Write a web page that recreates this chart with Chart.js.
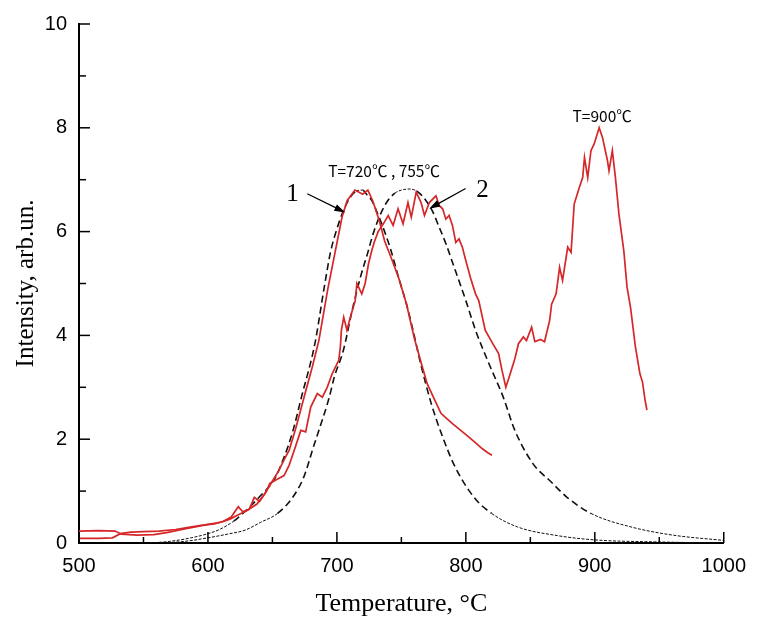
<!DOCTYPE html>
<html>
<head>
<meta charset="utf-8">
<script src="https://cdn.jsdelivr.net/npm/chart.js@4.4.1/dist/chart.umd.min.js"></script>
<style>
  body { margin: 0; background: #fff; }
  #wrap { width: 757px; height: 624px; }
</style>
</head>
<body>
<div id="wrap"><canvas id="chartTemp"></canvas></div>
<script>
// fitted curve 1 (peak 720)
const fit1T = [555, 570, 587, 600, 608, 620, 627, 640, 652, 659, 666, 672.5, 683, 690, 695, 700, 705, 710, 715, 720, 723, 727, 731, 737, 742, 748, 754, 759, 765, 773, 781, 791, 806, 820, 840, 869, 900, 950, 1000];
const fit1I = [0.0, 0.03, 0.1, 0.18, 0.25, 0.42, 0.57, 0.89, 1.25, 1.65, 2.17, 2.81, 3.85, 4.9, 5.6, 6.05, 6.4, 6.65, 6.78, 6.8, 6.72, 6.6, 6.38, 6.0, 5.63, 5.1, 4.6, 4.1, 3.45, 2.7, 2.11, 1.5, 0.89, 0.57, 0.31, 0.15, 0.06, 0.02, 0.0];

// fitted curve 2 (peak 755)
const fit2T = [565, 585, 600, 615, 629, 641, 654, 666, 674, 678, 681, 686, 694, 698, 705, 712, 718, 724, 728, 733.4, 738.5, 745, 750, 756, 762, 769, 774, 779.4, 784.5, 790, 800, 807.5, 818, 829, 838, 852, 866, 878, 897, 928, 961, 1000];
const fit2I = [0.0, 0.04, 0.1, 0.17, 0.25, 0.4, 0.57, 0.89, 1.25, 1.54, 1.79, 2.17, 2.8, 3.2, 3.71, 4.5, 5.1, 5.6, 5.95, 6.31, 6.56, 6.74, 6.8, 6.82, 6.78, 6.6, 6.4, 6.08, 5.77, 5.38, 4.67, 4.1, 3.45, 2.81, 2.17, 1.53, 1.18, 0.89, 0.57, 0.31, 0.15, 0.05];

// measured curve 1
const meas1T = [500, 515, 528, 533, 545, 558, 568, 580, 590, 600, 610, 617, 624, 630, 638, 644, 649, 655, 659, 663, 668, 675, 681, 686, 693, 698.8, 704, 708, 714, 720, 724, 728, 733, 737, 742, 748, 754, 760, 765, 770, 775, 780.7, 785, 789.6, 796, 802.4, 808, 812.6, 817, 820.3];
const meas1I = [0.23, 0.24, 0.23, 0.17, 0.15, 0.16, 0.2, 0.26, 0.31, 0.36, 0.4, 0.46, 0.55, 0.62, 0.75, 0.95, 1.15, 1.4, 1.6, 1.79, 2.2, 2.85, 3.4, 3.9, 4.9, 5.63, 6.28, 6.6, 6.8, 6.72, 6.8, 6.58, 6.2, 5.82, 5.5, 5.1, 4.6, 3.95, 3.5, 3.07, 2.8, 2.5, 2.4, 2.3, 2.17, 2.04, 1.92, 1.82, 1.74, 1.69];

// measured curve 2 (with the 900 peak)
const meas2T = [500, 515, 526, 532, 540, 550, 562, 575, 585, 595, 605, 612, 618, 623.5, 627, 632, 636, 640, 645, 648, 653, 659, 663, 667, 672, 675.8, 679.7, 684.8, 688.7, 692.5, 696.3, 701.4, 702.7, 703.5, 705.3, 707.8, 710.4, 714.2, 715.5, 719.3, 721.9, 724.5, 727, 729, 732, 736, 739.8, 743.6, 747.4, 751.3, 755.1, 757.7, 761.5, 765.3, 767.9, 771.7, 776.8, 779.4, 782, 784.5, 787, 789.6, 792.2, 794.7, 797.3, 800, 803.7, 807.5, 810, 815, 820, 825.4, 828, 831, 834.4, 838, 840.8, 844.6, 847, 851, 853.5, 858, 861, 865, 866.5, 870, 872.7, 875, 879, 881.6, 884, 888, 890.6, 892, 894.5, 897, 899.5, 903.4, 906, 909.8, 911, 913.6, 916, 918.7, 922.5, 925, 927.7, 931.5, 935, 937, 939, 940.4];
const meas2I = [0.09, 0.09, 0.1, 0.18, 0.21, 0.22, 0.23, 0.26, 0.3, 0.34, 0.37, 0.42, 0.5, 0.7, 0.6, 0.65, 0.88, 0.8, 0.98, 1.15, 1.22, 1.3, 1.5, 1.79, 2.17, 2.14, 2.62, 2.88, 2.81, 3.0, 3.26, 3.52, 3.78, 4.1, 4.35, 4.1, 4.35, 4.67, 5.0, 4.8, 5.0, 5.38, 5.63, 5.8, 6.0, 6.15, 6.31, 6.12, 6.44, 6.15, 6.56, 6.28, 6.76, 6.56, 6.31, 6.56, 6.69, 6.5, 6.44, 6.24, 6.31, 6.12, 5.79, 5.86, 5.7, 5.44, 5.1, 4.8, 4.67, 4.1, 3.88, 3.65, 3.33, 3.0, 3.26, 3.55, 3.84, 3.97, 3.9, 4.16, 3.88, 3.92, 3.88, 4.29, 4.6, 4.8, 5.31, 5.06, 5.7, 5.6, 6.53, 6.85, 7.04, 7.43, 7.04, 7.56, 7.69, 8.0, 7.81, 7.37, 7.17, 7.56, 7.04, 6.34, 5.63, 4.93, 4.54, 3.78, 3.26, 3.1, 2.75, 2.56];

const xTicksMin = 500, xTicksMax = 1000;
const yTicksMin = 0, yTicksMax = 10;

function toPoints(ts, vs) {
  return ts.map((t, i) => ({ x: t, y: vs[i] }));
}

const red = 'rgb(214, 38, 40)';

function steep(ctx) {
  const dx = Math.abs(ctx.p1.x - ctx.p0.x) || 1;
  return Math.abs(ctx.p1.y - ctx.p0.y) / dx > 0.6;
}
const fitSegment = {
  borderDash: (ctx) => (steep(ctx) ? [7, 4] : [3, 1.5]),
  borderWidth: (ctx) => (steep(ctx) ? 1.6 : 1),
};

// labels, arrows and inward tick marks
const notes = {
  id: 'notes',
  afterDraw(chart) {
    const ctx = chart.ctx;
    const xs = chart.scales.x;
    const ys = chart.scales.y;
    const X = (v) => xs.getPixelForValue(v);
    const Y = (v) => ys.getPixelForValue(v);
    ctx.save();
    ctx.strokeStyle = '#000';
    ctx.lineWidth = 1.5;
    xs.ticks.forEach((t) => {
      const len = t.value % 100 === 0 ? 11 : 6;
      const px = X(t.value);
      ctx.beginPath();
      ctx.moveTo(px, xs.top);
      ctx.lineTo(px, xs.top - len);
      ctx.stroke();
    });
    ys.ticks.forEach((t) => {
      const len = t.value % 2 === 0 ? 11 : 7;
      const py = Y(t.value);
      ctx.beginPath();
      ctx.moveTo(ys.right, py);
      ctx.lineTo(ys.right + len, py);
      ctx.stroke();
    });

    function arrow(t0, v0, t1, v1) {
      const x0 = X(t0), y0 = Y(v0), x1 = X(t1), y1 = Y(v1);
      const a = Math.atan2(y1 - y0, x1 - x0);
      ctx.lineWidth = 1.2;
      ctx.beginPath();
      ctx.moveTo(x0, y0);
      ctx.lineTo(x1 - 8 * Math.cos(a), y1 - 8 * Math.sin(a));
      ctx.stroke();
      ctx.beginPath();
      ctx.moveTo(x1, y1);
      ctx.lineTo(x1 - 11 * Math.cos(a) + 3.5 * Math.sin(a), y1 - 11 * Math.sin(a) - 3.5 * Math.cos(a));
      ctx.lineTo(x1 - 11 * Math.cos(a) - 3.5 * Math.sin(a), y1 - 11 * Math.sin(a) + 3.5 * Math.cos(a));
      ctx.closePath();
      ctx.fill();
    }
    ctx.fillStyle = '#000';
    arrow(677, 6.73, 706.5, 6.37);
    arrow(799.8, 6.83, 771.5, 6.44);

    ctx.textAlign = 'center';
    ctx.textBaseline = 'middle';
    ctx.font = '25px "Liberation Serif"';
    ctx.fillText('1', X(665.6), Y(6.71));
    ctx.fillText('2', X(812.9), Y(6.79));
    ctx.font = '15.5px "Noto Sans CJK SC"';
    ctx.fillText('T=720℃ , 755℃', X(736.6), Y(7.17));
    ctx.fillText('T=900℃', X(905.7), Y(8.23));
    ctx.restore();
  },
};

const chartTemp = document.getElementById('chartTemp').getContext('2d');
const myChart = new Chart(chartTemp, {
  type: 'line',
  data: {
    datasets: [
      {
        label: 'measured 1',
        data: toPoints(meas1T, meas1I),
        borderColor: red,
        borderWidth: 1.7,
        pointRadius: 0,
        tension: 0,
      },
      {
        label: 'measured 2',
        data: toPoints(meas2T, meas2I),
        borderColor: red,
        borderWidth: 1.7,
        pointRadius: 0,
        tension: 0,
      },
      {
        label: 'fit 1',
        data: toPoints(fit1T, fit1I),
        borderColor: '#111',
        pointRadius: 0,
        cubicInterpolationMode: 'monotone',
        segment: fitSegment,
      },
      {
        label: 'fit 2',
        data: toPoints(fit2T, fit2I),
        borderColor: '#111',
        pointRadius: 0,
        cubicInterpolationMode: 'monotone',
        segment: fitSegment,
      },
    ],
  },
  options: {
    responsive: true,
    maintainAspectRatio: false,
    animation: false,
    layout: { padding: { left: 0, right: 25, top: 23, bottom: 0 } },
    plugins: {
      legend: { display: false },
      tooltip: { enabled: false },
    },
    scales: {
      x: {
        type: 'linear',
        min: xTicksMin,
        max: xTicksMax,
        afterFit: (scale) => { scale.height = 81; },
        border: { display: true, color: '#000', width: 2 },
        grid: { drawOnChartArea: false, drawTicks: false },
        ticks: {
          stepSize: 50,
          autoSkip: false,
          maxRotation: 0,
          padding: 11,
          color: '#000',
          font: { family: 'Liberation Sans', size: 20 },
          callback: (v) => (v % 100 === 0 ? v : ''),
        },
        title: {
          display: true,
          text: 'Temperature, °C',
          color: '#000',
          font: { family: 'Liberation Serif', size: 26 },
          padding: { top: 0, bottom: 4 },
        },
      },
      y: {
        min: yTicksMin,
        max: yTicksMax,
        afterFit: (scale) => { scale.width = 79; },
        border: { display: true, color: '#000', width: 2 },
        grid: { drawOnChartArea: false, drawTicks: false },
        ticks: {
          stepSize: 1,
          autoSkip: false,
          padding: 12,
          color: '#000',
          font: { family: 'Liberation Sans', size: 20 },
          callback: (v) => (v % 2 === 0 ? v : ''),
        },
        title: {
          display: true,
          text: 'Intensity, arb.un.',
          color: '#000',
          font: { family: 'Liberation Serif', size: 25 },
          padding: { top: 11, bottom: 0 },
        },
      },
    },
  },
  plugins: [notes],
});
</script>
</body>
</html>
